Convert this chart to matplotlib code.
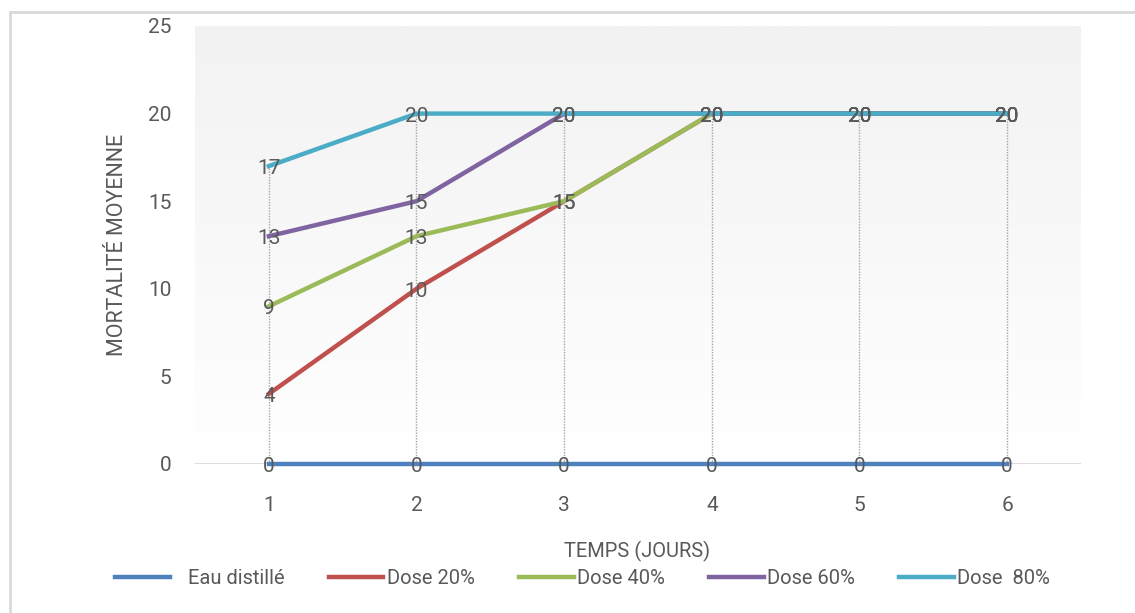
import numpy as np
import matplotlib
matplotlib.use('Agg')
import matplotlib.pyplot as plt

# mortality per day for each treatment
jours = [1, 2, 3, 4, 5, 6]
eau = [0, 0, 0, 0, 0, 0]
dose20 = [4, 10, 15, 20, 20, 20]
dose40 = [9, 13, 15, 20, 20, 20]
dose60 = [13, 15, 20, 20, 20, 20]
dose80 = [17, 20, 20, 20, 20, 20]

series = [
    ('   Eau distillé', eau, '#4f81bd'),
    ('Dose 20%', dose20, '#c0504d'),
    ('Dose 40%', dose40, '#9bbb59'),
    ('Dose 60%', dose60, '#8064a2'),
    ('Dose  80%', dose80, '#4bacc6'),
]

num_font = ['Roboto', 'DejaVu Sans']
txt_font = ['Roboto', 'DejaVu Sans']
grey = '#595959'

fig = plt.figure(figsize=(11.35, 6.13), dpi=100)
ax = fig.add_axes([0.1718, 0.2431, 0.7806, 0.7145])

# outer frame
fig.patches.append(plt.Rectangle((0.009, -0.05), 1.1, 1.03, transform=fig.transFigure,
                                 fill=False, edgecolor='#d9d9d9', lw=2))

# plot area gradient
grad = np.linspace(0, 1, 256).reshape(-1, 1)
ax.imshow(grad, extent=[0, 1, 0, 1], transform=ax.transAxes, aspect='auto',
          cmap=matplotlib.colors.LinearSegmentedColormap.from_list('bg', ['#ffffff', '#f2f2f2']),
          origin='lower', zorder=0)

ax.set_xlim(0.5, 6.5)
ax.set_ylim(0, 25)

# drop lines
top = np.max([s[1] for s in series], axis=0)
ax.vlines(jours, 0, top, colors='#a6a6a6', linestyles=(0, (1, 1)), lw=1, zorder=1)
ax.axhline(0, color='#d9d9d9', lw=2, zorder=1)

for name, vals, col in series:
    ax.plot(jours, vals, color=col, lw=3.2, label=name, zorder=2, clip_on=False)
for name, vals, col in series:
    for x, y in zip(jours, vals):
        ax.text(x, y - 0.15, str(y), ha='center', va='center', fontsize=15, color=grey,
                family=num_font, zorder=3)

for s in ax.spines.values():
    s.set_visible(False)
ax.tick_params(length=0, labelsize=15, labelcolor=grey)
ax.tick_params(axis='x', pad=23)
ax.tick_params(axis='y', pad=17)
ax.set_xticks(jours)
ax.set_yticks([0, 5, 10, 15, 20, 25])
for lab in ax.get_xticklabels() + ax.get_yticklabels():
    lab.set_family(num_font)

ax.set_ylabel('MORTALITÉ MOYENNE', fontsize=15.5, color=grey, family=txt_font, labelpad=14)
fig.text(0.561, 0.101, 'TEMPS (JOURS)', ha='center', va='center', fontsize=14.5,
         color=grey, family=txt_font)

fig.legend(loc='center', bbox_to_anchor=(0.513, 0.057), ncol=5, frameon=False,
           prop={'family': txt_font, 'size': 14.5}, labelcolor=grey,
           handlelength=2.73, handletextpad=0.15, columnspacing=2.2)

fig.savefig('out.png', dpi=100)
